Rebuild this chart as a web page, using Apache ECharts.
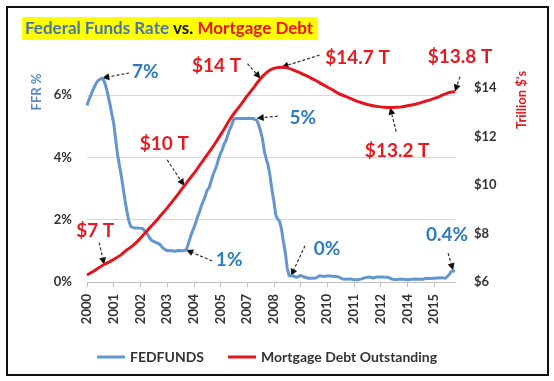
<!DOCTYPE html>
<html><head><meta charset="utf-8">
<script src="https://cdn.jsdelivr.net/npm/echarts@6/dist/echarts.min.js"></script>
<style>html,body{margin:0;padding:0;background:#fff}#c{width:554px;height:381px}</style>
</head><body><div id="c"></div>
<script>
// x tick labels (one every 14 months, starting Feb 2000)
const tickLabels = ['2000','2001','2002','2003','2004','2005','2007','2008','2009','2010','2011','2012','2014','2015'];

// FEDFUNDS, monthly, Feb 2000 .. Mar 2016 (%)
const fedFunds = [
  5.67,5.85,6.00,6.15,6.28,6.40,6.48,6.53,6.55,6.45,6.26,
  6.00,5.72,5.40,5.10,4.60,4.10,3.75,3.40,3.00,2.60,2.25,1.95,
  1.78,1.72,1.73,1.74,1.73,1.72,1.72,1.68,1.60,1.50,1.40,1.33,
  1.29,1.27,1.25,1.22,1.15,1.08,1.03,1.00,1.00,1.01,1.00,0.99,
  1.00,1.01,1.00,1.00,1.00,1.03,1.20,1.40,1.58,1.73,1.90,2.10,
  2.25,2.45,2.60,2.75,2.95,3.02,3.22,3.42,3.58,3.74,3.95,4.12,
  4.26,4.44,4.56,4.75,4.92,5.05,5.24,5.25,5.25,5.25,5.25,5.24,
  5.25,5.26,5.26,5.25,5.25,5.25,5.20,5.05,4.85,4.60,4.20,3.95,
  3.75,3.40,2.95,2.60,2.15,2.02,1.95,1.70,1.30,0.95,0.45,0.20,
  0.16,0.20,0.18,0.15,0.18,0.21,0.16,0.16,0.15,0.12,0.12,0.12,
  0.11,0.13,0.16,0.20,0.20,0.18,0.18,0.19,0.19,0.19,0.19,0.18,
  0.17,0.16,0.14,0.10,0.09,0.09,0.07,0.10,0.08,0.07,0.08,0.07,
  0.08,0.10,0.13,0.14,0.16,0.16,0.16,0.13,0.14,0.16,0.16,0.16,
  0.14,0.15,0.14,0.15,0.11,0.09,0.09,0.08,0.08,0.09,0.08,0.09,
  0.07,0.07,0.08,0.09,0.09,0.10,0.09,0.09,0.09,0.09,0.09,0.12,
  0.11,0.11,0.11,0.12,0.12,0.13,0.13,0.14,0.14,0.12,0.12,0.24,
  0.34,0.38,0.36
];

// Mortgage debt outstanding (trillion $), read at month index
const debtMonths = [0,3,6,9,12,15,18,21,24,27,30,33,36,39,42,45,48,51,54,57,60,63,66,69,72,75,78,81,84,87,90,93,96,99,102,105,108,111,114,117,120,123,126,129,132,135,138,141,144,147,150,153,156,159,162,165,168,171,174,177,180,183,186,189,192,193];
const debtValues = [6.29,6.42,6.58,6.72,6.84,6.98,7.13,7.33,7.50,7.72,7.98,8.25,8.50,8.78,9.05,9.35,9.65,9.97,10.28,10.58,10.92,11.25,11.58,11.95,12.32,12.72,13.05,13.35,13.68,13.98,14.30,14.56,14.75,14.84,14.87,14.84,14.76,14.66,14.55,14.44,14.32,14.18,14.05,13.92,13.78,13.68,13.58,13.48,13.40,13.33,13.28,13.24,13.21,13.20,13.21,13.23,13.28,13.32,13.38,13.45,13.52,13.60,13.70,13.80,13.85,13.86];

const BLUE = '#6396d0', RED = '#e3161d', BLUE_T = '#2f7bc2', RED_T = '#e51b22';
const FONT = 'Lato';

// annotations: target in data space, text & arrow-start offsets in px
const notes = [
  {text:'7%',     c:BLUE_T, at:[8,6.55],    ax:0, dx:43, dy:-6,  sx:27, sy:-5},
  {text:'$14 T',  c:RED_T,  at:[91,14.40],  ax:1, dx:-44,dy:-13, sx:-13,sy:-15},
  {text:'$14.7 T',c:RED_T,  at:[102,14.87], ax:1, dx:76, dy:-9,  sx:38, sy:-12},
  {text:'$13.8 T',c:RED_T,  at:[193,13.86], ax:1, dx:5,  dy:-35, sx:5,  sy:-15},
  {text:'5%',     c:BLUE_T, at:[89,5.26],   ax:0, dx:46, dy:0,   sx:21, sy:-2},
  {text:'$10 T',  c:RED_T,  at:[51,9.97],   ax:1, dx:-20,dy:-42, sx:-17,sy:-26},
  {text:'$7 T',   c:RED_T,  at:[9,6.72],    ax:1, dx:-9, dy:-34, sx:-5, sy:-22},
  {text:'1%',     c:BLUE_T, at:[52,1.03],   ax:0, dx:43, dy:10,  sx:26, sy:11},
  {text:'0%',     c:BLUE_T, at:[107,0.20],  ax:0, dx:36, dy:-27, sx:14, sy:-30},
  {text:'$13.2 T',c:RED_T,  at:[159,13.20], ax:1, dx:7,  dy:43,  sx:6,  sy:24},
  {text:'0.4%',   c:BLUE_T, at:[192,0.38],  ax:0, dx:-6, dy:-35, sx:-5, sy:-17}
];

const chart = echarts.init(document.getElementById('c'), null, {renderer:'canvas'});
const lbl = {fontFamily:FONT, fontWeight:'bold', fontSize:13, color:'#333'};
chart.setOption({
  animation:false,
  backgroundColor:'#fff',
  title:{
    text:'{a|Federal Funds Rate} {b|vs.} {c|Mortgage Debt}',
    left:22, top:17, padding:[3,5,3,3], backgroundColor:'#ffff00',
    textStyle:{fontSize:17, fontFamily:FONT, fontWeight:'bold',
      rich:{
        a:{color:'#4a76a8', fontSize:17, fontFamily:FONT, fontWeight:'bold'},
        b:{color:'#111', fontSize:17, fontFamily:FONT, fontWeight:'bold'},
        c:{color:'#e8161c', fontSize:17, fontFamily:FONT, fontWeight:'bold'}
      }}
  },
  legend:{
    left:92, top:345, itemWidth:28, itemHeight:3, itemGap:24,
    textStyle:{fontFamily:FONT, fontWeight:'bold', fontSize:14, color:'#333'},
    data:[{name:'FEDFUNDS', icon:'rect'},{name:'Mortgage Debt Outstanding', icon:'rect'}]
  },
  grid:{left:87, right:99, top:64, bottom:99, containLabel:false},
  xAxis:{
    type:'value', min:0, max:193, interval:14,
    axisLine:{show:true, onZero:false, lineStyle:{color:'#bfbfbf', width:1}},
    axisTick:{show:true, length:5, lineStyle:{color:'#bfbfbf'}},
    splitLine:{show:false},
    axisLabel:Object.assign({rotate:90, margin:12, showMaxLabel:false,
      formatter:v => { const i = Math.round(v/14); return (v % 14 === 0 && tickLabels[i]) ? tickLabels[i] : ''; }}, lbl)
  },
  yAxis:[
    {type:'value', min:0, max:7, interval:2, position:'left',
     axisLine:{show:false}, axisTick:{show:false},
     splitLine:{show:true, lineStyle:{color:['rgba(0,0,0,0)','#d9d9d9','#d9d9d9','#d9d9d9','rgba(0,0,0,0)'], width:1}},
     axisLabel:Object.assign({formatter:'{value}%', showMaxLabel:false, margin:15}, lbl)},
    {type:'value', min:6, max:15, interval:2, position:'right',
     axisLine:{show:false}, axisTick:{show:false}, splitLine:{show:false},
     axisLabel:Object.assign({formatter:'${value}', showMaxLabel:false, margin:19}, lbl)}
  ],
  series:[
    {name:'FEDFUNDS', type:'line', yAxisIndex:0, symbol:'none',
     data:fedFunds.map((v,i)=>[i,v]),
     lineStyle:{color:BLUE, width:3}, itemStyle:{color:BLUE}},
    {name:'Mortgage Debt Outstanding', type:'line', yAxisIndex:1, symbol:'none', smooth:0.3,
     data:debtMonths.map((m,i)=>[m, debtValues[i]]),
     lineStyle:{color:RED, width:3}, itemStyle:{color:RED}}
  ]
});

const els = [];
els.push({type:'rect', shape:{x:7,y:7,width:541,height:368}, style:{fill:'none', stroke:'#111', lineWidth:2}, silent:true});
els.push({type:'text', x:37, y:92, rotation:Math.PI/2,
  style:{text:'FFR %', fill:'#5b86c8', font:'bold 13px '+FONT, align:'center', verticalAlign:'middle', textAlign:'center', textVerticalAlign:'middle'}});
els.push({type:'text', x:522, y:100, rotation:Math.PI/2,
  style:{text:"Trillion $'s", fill:RED_T, font:'bold 13px '+FONT, align:'center', verticalAlign:'middle', textAlign:'center', textVerticalAlign:'middle'}});

notes.forEach(n => {
  const p = chart.convertToPixel({xAxisIndex:0, yAxisIndex:n.ax}, n.at);
  const tx = p[0], ty = p[1];
  const sx = tx + n.sx, sy = ty + n.sy;
  const dxv = tx - sx, dyv = ty - sy, L = Math.hypot(dxv, dyv) || 1;
  const ux = dxv/L, uy = dyv/L, px = -uy, py = ux;
  const ah = 7, aw = 3.5;
  const bx = tx - ux*ah, by = ty - uy*ah;
  els.push({type:'line', shape:{x1:sx, y1:sy, x2:bx, y2:by}, style:{stroke:'#333', lineWidth:1.2, lineDash:[3,2]}, silent:true});
  els.push({type:'polygon', shape:{points:[[tx,ty],[bx+px*aw,by+py*aw],[bx-px*aw,by-py*aw]]}, style:{fill:'#111'}, silent:true});
  els.push({type:'text', x:tx+n.dx, y:ty+n.dy,
    style:{text:n.text, fill:n.c, font:'bold 19px '+FONT, align:'center', verticalAlign:'middle', textAlign:'center', textVerticalAlign:'middle'}});
});
chart.setOption({graphic:{elements:els}});
</script></body></html>
